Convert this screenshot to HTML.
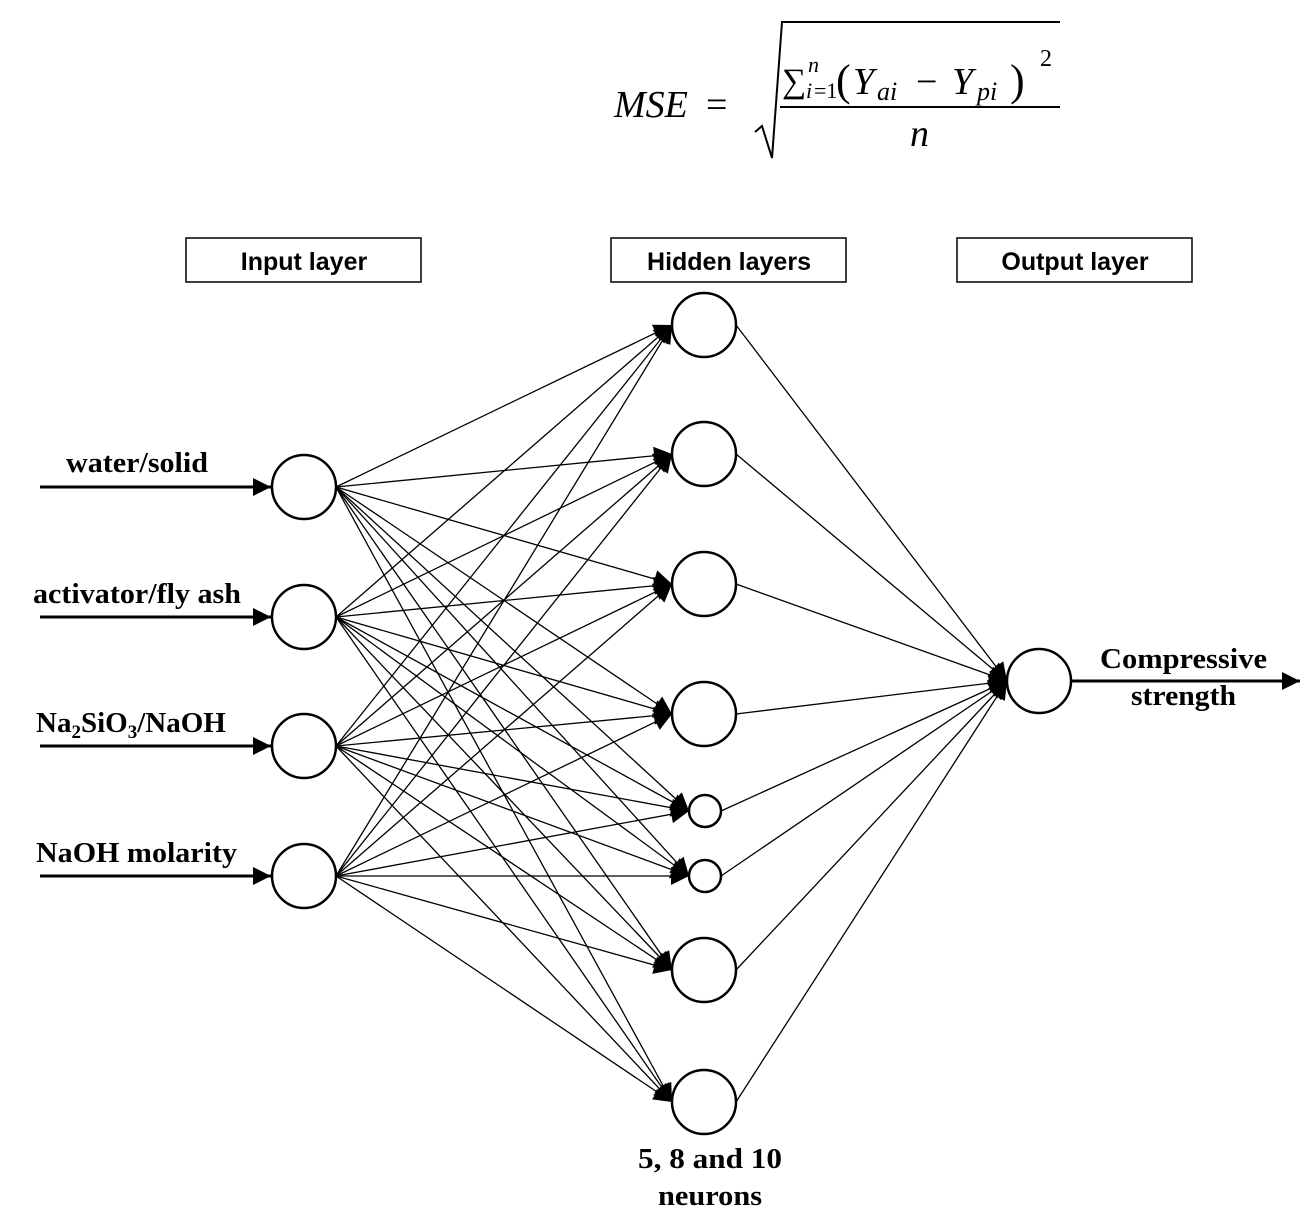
<!DOCTYPE html>
<html><head><meta charset="utf-8"><style>
html,body{margin:0;padding:0;background:#fff;}
svg{display:block}
</style></head><body>
<svg id="s" width="1308" height="1229" viewBox="0 0 1308 1229" xmlns="http://www.w3.org/2000/svg">
<defs>
<marker id="a" viewBox="0 0 10 10" refX="10" refY="5" markerWidth="24" markerHeight="18" markerUnits="userSpaceOnUse" orient="auto"><path d="M0,0 L10,5 L0,10 z" fill="#000"/></marker>
</defs>
<g font-family="'Liberation Serif',serif" font-style="italic" fill="#000">
<text x="614" y="117" font-size="38">MSE</text>
<text x="706" y="117" font-size="38" font-style="normal">=</text>
<path d="M755,132 L762,126 L772,158 L782,22 L1060,22" fill="none" stroke="#000" stroke-width="2"/>
<line x1="780" y1="107" x2="1060" y2="107" stroke="#000" stroke-width="2"/>
<text x="782" y="92" font-size="34" font-style="normal">∑</text>
<text x="808" y="72" font-size="22">n</text>
<text x="806" y="98" font-size="22">i</text><text x="814" y="98" font-size="22" font-style="normal">=1</text>
<text x="836" y="95" font-size="44" font-style="normal">(</text>
<text x="853" y="94" font-size="38">Y</text><text x="877" y="100" font-size="26">ai</text>
<text x="916" y="94" font-size="38" font-style="normal">−</text>
<text x="952" y="94" font-size="38">Y</text><text x="977" y="100" font-size="26">pi</text>
<text x="1010" y="95" font-size="44" font-style="normal">)</text>
<text x="1040" y="66" font-size="24" font-style="normal">2</text>
<text x="910" y="146" font-size="38">n</text>
</g>
<g fill="none" stroke="#000" stroke-width="1.5">
<rect x="186" y="238" width="235" height="44"/>
<rect x="611" y="238" width="235" height="44"/>
<rect x="957" y="238" width="235" height="44"/>
</g>
<g font-family="'Liberation Sans',sans-serif" font-weight="bold" font-size="25" text-anchor="middle">
<text x="304" y="270">Input layer</text>
<text x="729" y="270">Hidden layers</text>
<text x="1075" y="270">Output layer</text>
</g>
<g id="lines" stroke="#000" stroke-width="1.3" fill="none"></g>
<g id="nodes" fill="#fff" stroke="#000" stroke-width="2.5"></g>
<g stroke="#000" stroke-width="3">
<line x1="40" y1="487" x2="271" y2="487" marker-end="url(#a)"/>
<line x1="40" y1="617" x2="271" y2="617" marker-end="url(#a)"/>
<line x1="40" y1="746" x2="271" y2="746" marker-end="url(#a)"/>
<line x1="40" y1="876" x2="271" y2="876" marker-end="url(#a)"/>
<line x1="1071" y1="681" x2="1300" y2="681" marker-end="url(#a)"/>
</g>
<g font-family="'Liberation Serif',serif" font-size="29" font-weight="bold" fill="#000">
<text x="66" y="472" textLength="142" lengthAdjust="spacingAndGlyphs">water/solid</text>
<text x="33" y="603" textLength="208" lengthAdjust="spacingAndGlyphs">activator/fly ash</text>
<text x="36" y="732">Na<tspan font-size="19" dy="6">2</tspan><tspan dy="-6">SiO</tspan><tspan font-size="19" dy="6">3</tspan><tspan dy="-6">/NaOH</tspan></text>
<text x="36" y="862" textLength="201" lengthAdjust="spacingAndGlyphs">NaOH molarity</text>
<text x="1100" y="668" textLength="167" lengthAdjust="spacingAndGlyphs">Compressive</text>
<text x="1131" y="705" textLength="105" lengthAdjust="spacingAndGlyphs">strength</text>
<text x="638" y="1168" textLength="144" lengthAdjust="spacingAndGlyphs">5, 8 and 10</text>
<text x="658" y="1205" textLength="104" lengthAdjust="spacingAndGlyphs">neurons</text>
</g>
</svg>
<script>
var NS="http://www.w3.org/2000/svg";
var L=document.getElementById("lines"),N=document.getElementById("nodes");
var ins=[487,617,746,876];
var hid=[[704,325,32],[704,454,32],[704,584,32],[704,714,32],[705,811,16],[705,876,16],[704,970,32],[704,1102,32]];
function el(t,a,p){var e=document.createElementNS(NS,t);for(var k in a)e.setAttribute(k,a[k]);p.appendChild(e);return e;}
ins.forEach(function(y){
 hid.forEach(function(h){
  el("line",{x1:336,y1:y,x2:h[0]-h[2],y2:h[1],"marker-end":"url(#a)"},L);
 });
 el("circle",{cx:304,cy:y,r:32},N);
});
hid.forEach(function(h){
  el("line",{x1:h[0]+h[2],y1:h[1],x2:1007,y2:681,"marker-end":"url(#a)"},L);
  el("circle",{cx:h[0],cy:h[1],r:h[2]},N);
});
el("circle",{cx:1039,cy:681,r:32},N);
</script>
</body></html>
